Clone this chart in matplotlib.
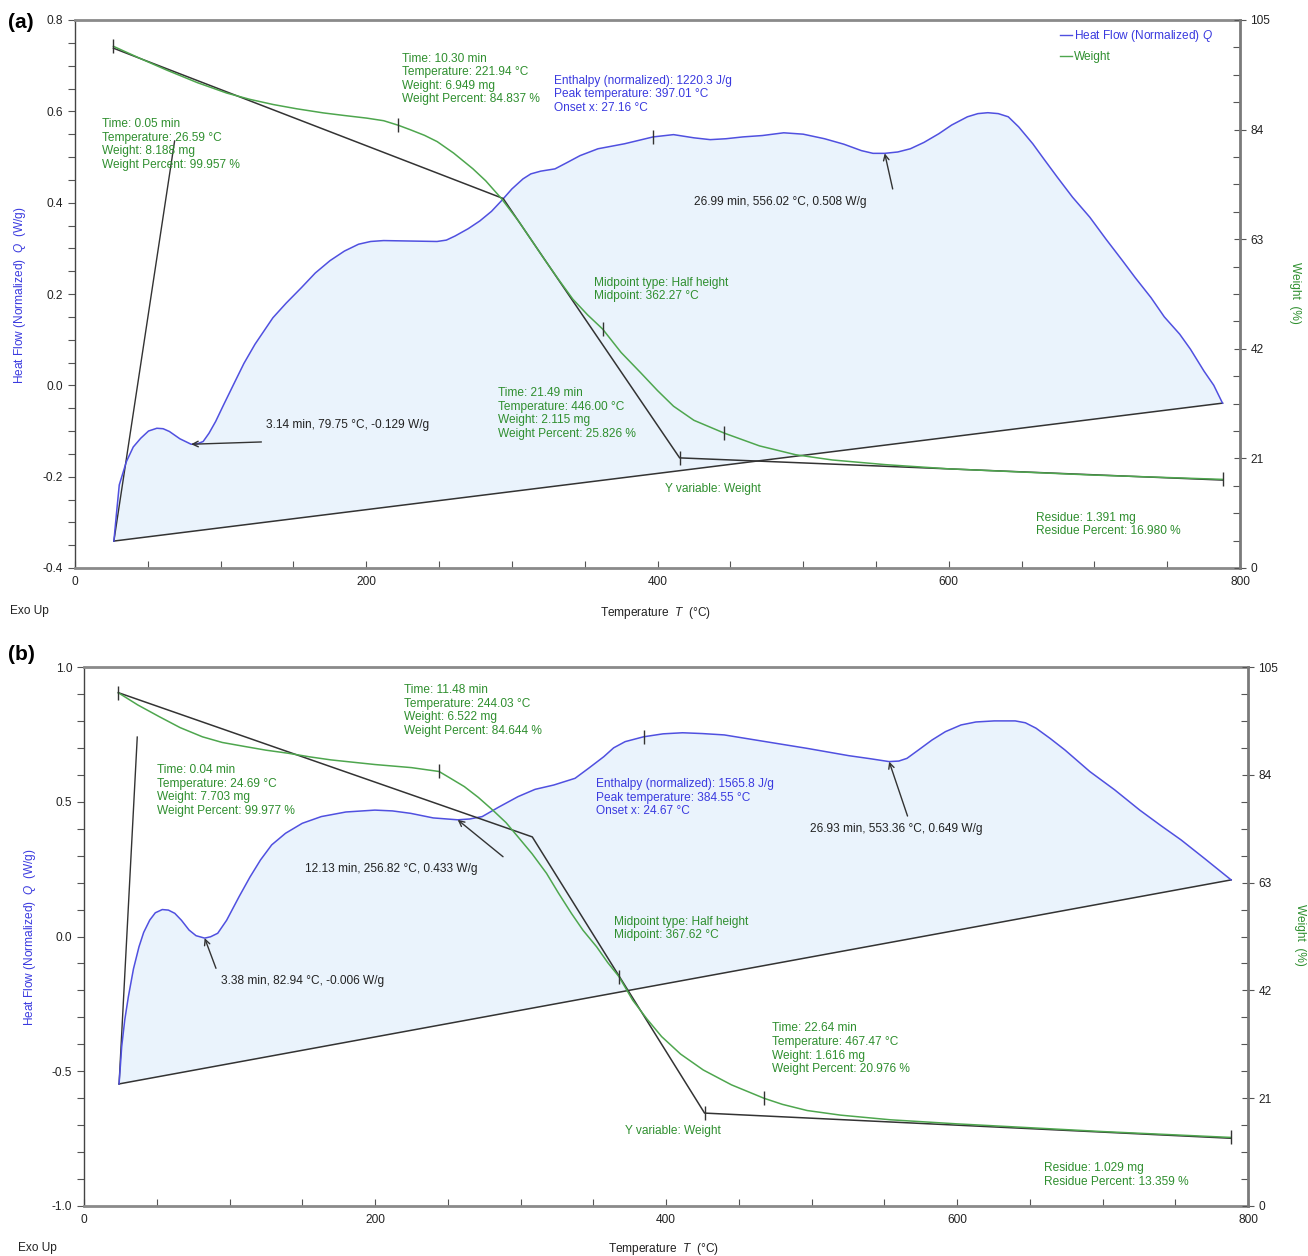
import matplotlib
matplotlib.use("Agg")
import matplotlib.pyplot as plt
from matplotlib.lines import Line2D
from matplotlib.ticker import MultipleLocator, FuncFormatter

plt.rcParams['font.family'] = ['Liberation Sans', 'DejaVu Sans']
plt.rcParams['mathtext.fontset'] = 'custom'
plt.rcParams['mathtext.rm'] = 'Liberation Sans'
plt.rcParams['mathtext.it'] = 'Liberation Sans:italic'

# ---------------- Panel (a) data ----------------
a_hf_T = [26.7, 28.5, 30.4, 35.3, 40.0, 45.1, 50.5, 56.2, 60.5, 64.8, 72.0, 79.75, 84.0, 88.0, 92.0, 96.6,
          102.0, 108.9, 116.0, 123.6, 135.9, 145.0, 155.5, 165.0, 175.1, 185.0, 194.7, 203.0, 211.9,
          230.0, 248.6, 255.0, 261.0, 270.0, 278.0, 286.0, 292.8,
          300.0, 307.6, 313.0, 319.8, 329.6, 338.0, 346.8, 359.1, 377.4, 397.0, 411.0, 425.0,
          436.2, 447.0, 458.7, 472.0, 486.7, 500.0, 514.7,
          528.0, 540.0, 548.0, 556.02, 565.0, 573.6, 583.0, 593.2, 602.0, 612.8, 620.0, 626.8, 634.0,
          640.9, 648.0, 657.7, 665.0, 674.5, 685.0, 696.9, 708.0, 719.3, 728.0, 738.9,
          748.0, 758.6, 766.0, 775.3, 782.0, 788.0]
a_hf_Q = [-0.341, -0.28, -0.218, -0.167, -0.135, -0.116, -0.100, -0.094, -0.095, -0.101, -0.117, -0.129, -0.128, -0.123, -0.105, -0.079,
          -0.043, 0.002, 0.048, 0.090, 0.148, 0.180, 0.214, 0.246, 0.273, 0.294, 0.309, 0.315, 0.317,
          0.316, 0.315, 0.318, 0.327, 0.343, 0.360, 0.381, 0.404,
          0.430, 0.452, 0.463, 0.469, 0.474, 0.488, 0.503, 0.518, 0.529, 0.544, 0.549, 0.542,
          0.538, 0.540, 0.544, 0.547, 0.553, 0.550, 0.540,
          0.528, 0.514, 0.508, 0.508, 0.511, 0.518, 0.532, 0.551, 0.570, 0.588, 0.595, 0.597, 0.595,
          0.588, 0.566, 0.529, 0.497, 0.456, 0.412, 0.368, 0.320, 0.273, 0.236, 0.192,
          0.150, 0.112, 0.079, 0.031, 0.000, -0.039]
a_wt_T = [26.4, 45.0, 63.0, 84.0, 104.2, 120.0, 136.2, 152.0, 170.5, 185.0, 200.3, 212.0, 221.94,
          230.0, 240.0, 248.7, 260.0, 273.2, 282.0, 292.8, 305.0, 322.2, 332.0, 341.9, 352.0,
          362.27, 375.0, 388.5, 400.0, 411.0, 425.0, 446.0, 470.0, 494.9, 520.0, 556.7, 600.0,
          640.9, 700.0, 788.0]
a_wt_W = [99.957, 97.6, 95.4, 93.0, 91.0, 89.8, 88.8, 88.0, 87.2, 86.7, 86.2, 85.7, 84.837,
          84.0, 82.9, 81.7, 79.5, 76.5, 74.2, 70.8, 66.3, 59.2, 55.3, 51.5, 48.5,
          45.8, 41.3, 37.4, 34.0, 31.0, 28.3, 25.826, 23.4, 21.7, 20.7, 19.8, 19.0,
          18.5, 17.8, 16.98]
a_tan_T = [26.4, 294.0, 415.2, 788.0]
a_tan_W = [99.6, 70.8, 21.1, 16.85]
a_wmark_T = [26.4, 221.94, 362.27, 446.0, 788.0]
a_wmark_W = [99.957, 84.837, 45.8, 25.826, 16.98]
a_onset_mark = (415.2, 21.1)
a_peak = (397.01, 0.544)

# ---------------- Panel (b) data ----------------
b_hf_T = [24.1, 25.0, 25.9, 28.0, 30.5, 34.0, 37.8, 41.0, 45.2, 49.0, 53.8, 58.0, 62.4, 67.0, 72.2,
          77.0, 82.94, 87.0, 91.9, 98.0, 106.6, 114.0, 121.3, 129.0, 138.5, 150.0,
          163.1, 180.0, 199.9, 212.0, 224.5, 240.0, 256.82, 265.0, 273.7, 285.0, 298.3, 310.0,
          322.8, 337.5, 347.0, 357.2, 364.0, 371.9, 384.55,
          398.0, 411.4, 425.0, 440.0, 468.5, 497.1, 525.6, 540.0, 553.36, 560.0, 565.6, 574.0, 582.8,
          592.0, 602.8, 613.0, 625.6, 640.0, 647.0, 654.3, 664.0,
          674.2, 691.3, 708.4, 725.6, 740.0, 754.1, 770.0, 788.4]
b_hf_Q = [-0.547, -0.48, -0.409, -0.31, -0.223, -0.12, -0.038, 0.015, 0.061, 0.088, 0.100, 0.098, 0.086, 0.060, 0.024,
          0.003, -0.006, -0.001, 0.012, 0.060, 0.148, 0.220, 0.284, 0.340, 0.383, 0.420,
          0.445, 0.462, 0.469, 0.466, 0.457, 0.440, 0.433, 0.436, 0.445, 0.480, 0.519, 0.546,
          0.562, 0.587, 0.625, 0.667, 0.700, 0.723, 0.741,
          0.752, 0.756, 0.753, 0.748, 0.723, 0.698, 0.671, 0.660, 0.649, 0.651, 0.661, 0.694, 0.729,
          0.760, 0.785, 0.796, 0.800, 0.800, 0.793, 0.773, 0.735,
          0.692, 0.612, 0.544, 0.469, 0.412, 0.358, 0.290, 0.210]
b_wt_T = [23.6, 37.0, 51.9, 66.0, 81.4, 95.0, 110.8, 125.0, 140.3, 155.0, 169.8, 200.0, 225.0,
          244.03, 252.0, 261.4, 271.0, 281.0, 290.0, 298.3, 308.0, 317.9, 326.0, 335.0, 343.0,
          352.3, 360.0, 367.62, 377.1, 387.0, 397.0, 410.0, 425.6, 445.0, 467.47, 480.0, 497.0,
          520.0, 554.0, 600.0, 640.0, 700.0, 788.0]
b_wt_W = [99.977, 97.6, 95.3, 93.2, 91.4, 90.3, 89.5, 88.8, 88.2, 87.5, 86.9, 86.0, 85.4,
          84.644, 83.3, 81.7, 79.6, 77.1, 74.7, 71.9, 68.6, 64.8, 61.0, 57.0, 53.7,
          50.5, 47.4, 44.7, 40.1, 36.4, 33.0, 29.6, 26.5, 23.6, 20.976, 19.8, 18.6,
          17.7, 16.8, 16.0, 15.4, 14.5, 13.359]
b_tan_T = [23.6, 308.1, 426.5, 788.0]
b_tan_W = [100.0, 71.9, 18.1, 13.2]
b_wmark_T = [23.6, 244.03, 367.62, 467.47, 788.0]
b_wmark_W = [99.977, 84.644, 44.7, 20.976, 13.359]
b_onset_mark = (426.5, 18.1)
b_peak = (384.55, 0.741)

BLUE = '#5050e0'
BLUE_TXT = '#3a3adf'
GREEN = '#4ea64e'
GREEN_TXT = '#2f8f2f'
FILL = '#eaf3fc'
DARK = '#333333'
FS = 8.6

fig = plt.figure(figsize=(13.08, 12.56), dpi=100)


def fx(px):
    return px / 1308.0


def fy(py):
    return 1 - py / 1256.0


def setup(ax, ax2, ylim, ymajor, yminor):
    ax.set_xlim(0, 800)
    ax.set_ylim(*ylim)
    ax2.set_ylim(0, 105)
    ax.xaxis.set_major_locator(MultipleLocator(200))
    ax.xaxis.set_minor_locator(MultipleLocator(50))
    ax.yaxis.set_major_locator(MultipleLocator(ymajor))
    ax.yaxis.set_minor_locator(MultipleLocator(yminor))
    ax2.yaxis.set_major_locator(MultipleLocator(21))
    ax2.yaxis.set_minor_locator(MultipleLocator(5.25))
    ax.tick_params(axis='x', which='both', direction='in', length=5, width=0.8,
                   colors='#555555', labelcolor='#222222', labelsize=FS, pad=6)
    ax.tick_params(axis='y', which='both', direction='out', length=5, width=0.8,
                   colors='#555555', labelcolor='#222222', labelsize=FS)
    ax.tick_params(axis='x', which='both', top=False)
    ax2.tick_params(axis='y', which='major', direction='inout', length=8, width=0.8,
                    colors='#555555', labelcolor='#222222', labelsize=FS)
    ax2.tick_params(axis='y', which='minor', direction='in', length=5, width=0.8,
                    colors='#555555')
    for sp in ['top', 'bottom']:
        ax.spines[sp].set_color('#8a8a8a')
        ax.spines[sp].set_linewidth(2.0)
        ax2.spines[sp].set_visible(False)
    ax2.spines['right'].set_color('#7a7a7a')
    ax2.spines['right'].set_linewidth(2.0)
    ax.spines['right'].set_visible(False)
    ax2.spines['left'].set_visible(False)
    ax.spines['left'].set_color('#444444')
    ax.spines['left'].set_linewidth(1.0)
    ax.yaxis.set_major_formatter(FuncFormatter(lambda v, p: f"{v:.1f}"))
    ax2.yaxis.set_major_formatter(FuncFormatter(lambda v, p: f"{v:.0f}"))


def draw_panel(ax, ax2, hfT, hfQ, wT, wW, tT, tW, mT, mW, onset, peak, leader_end):
    ax.fill(hfT, hfQ, color=FILL, zorder=1, lw=0)
    ax.plot([hfT[0], hfT[-1]], [hfQ[0], hfQ[-1]], color=DARK, lw=1.1, zorder=2)
    ax.plot(hfT, hfQ, color=BLUE, lw=1.1, zorder=3)
    ax.plot([hfT[0], leader_end[0]], [hfQ[0], leader_end[1]], color=DARK, lw=1.0, zorder=2)
    ax.plot([peak[0]], [peak[1]], marker='|', ms=10, color=DARK, mew=1.0, zorder=4)
    ax2.plot(wT, wW, color=GREEN, lw=1.1, zorder=3)
    ax2.plot(tT, tW, color=DARK, lw=1.1, zorder=2)
    ax2.plot(mT, mW, marker='|', ms=10, color=DARK, mew=1.0, ls='none', zorder=4)
    ax2.plot([onset[0]], [onset[1]], marker='|', ms=10, color=DARK, mew=1.0, zorder=4)


def txt(ax, x, y, s, color, ha='left', va='top'):
    ax.text(x, y, s, color=color, fontsize=FS, ha=ha, va=va, linespacing=1.17, zorder=6)


def arrow(ax, tail, tip):
    ax.annotate('', xy=tip, xytext=tail,
                arrowprops=dict(arrowstyle='->', color=DARK, lw=1.0, shrinkA=0, shrinkB=0,
                                mutation_scale=10), zorder=6)


# ---------- Panel (a) ----------
axA = fig.add_axes([fx(75), fy(568), fx(1240) - fx(75), fy(20) - fy(568)])
axA2 = axA.twinx()
setup(axA, axA2, (-0.4, 0.8), 0.2, 0.05)
draw_panel(axA, axA2, a_hf_T, a_hf_Q, a_wt_T, a_wt_W, a_tan_T, a_tan_W,
           a_wmark_T, a_wmark_W, a_onset_mark, a_peak, (68.4, 0.535))
arrow(axA, (128.0, -0.124), (79.75, -0.129))
arrow(axA, (561.5, 0.43), (556.02, 0.508))
txt(axA, 18.3, 0.585, "Time: 0.05 min\nTemperature: 26.59 °C\nWeight: 8.188 mg\nWeight Percent: 99.957 %", GREEN_TXT)
txt(axA, 224.4, 0.728, "Time: 10.30 min\nTemperature: 221.94 °C\nWeight: 6.949 mg\nWeight Percent: 84.837 %", GREEN_TXT)
txt(axA, 329.0, 0.680, "Enthalpy (normalized): 1220.3 J/g\nPeak temperature: 397.01 °C\nOnset x: 27.16 °C", BLUE_TXT)
txt(axA, 425.0, 0.402, "26.99 min, 556.02 °C, 0.508 W/g", '#222222', va='center')
txt(axA, 131.0, -0.086, "3.14 min, 79.75 °C, -0.129 W/g", '#222222', va='center')
txt(axA, 356.4, 0.238, "Midpoint type: Half height\nMidpoint: 362.27 °C", GREEN_TXT)
txt(axA, 290.8, -0.004, "Time: 21.49 min\nTemperature: 446.00 °C\nWeight: 2.115 mg\nWeight Percent: 25.826 %", GREEN_TXT)
txt(axA, 405.4, -0.226, "Y variable: Weight", GREEN_TXT, va='center')
txt(axA, 660.0, -0.277, "Residue: 1.391 mg\nResidue Percent: 16.980 %", GREEN_TXT)
leg = axA2.legend(handles=[Line2D([], [], color=BLUE, lw=1.0),
                           Line2D([], [], color=GREEN, lw=1.0)],
                  labels=["Heat Flow (Normalized) $\\it{Q}$", "Weight"],
                  loc='upper left', bbox_to_anchor=((1060 - 75) / 1165.0, 1 - 8 / 548.0),
                  frameon=False, fontsize=FS, handlelength=1.0, handletextpad=0.15,
                  labelspacing=0.6, borderaxespad=0, borderpad=0)
leg.get_texts()[0].set_color(BLUE_TXT)
leg.get_texts()[1].set_color(GREEN_TXT)

# ---------- Panel (b) ----------
axB = fig.add_axes([fx(84), fy(1206), fx(1248) - fx(84), fy(667) - fy(1206)])
axB2 = axB.twinx()
setup(axB, axB2, (-1.0, 1.0), 0.5, 0.1)
draw_panel(axB, axB2, b_hf_T, b_hf_Q, b_wt_T, b_wt_W, b_tan_T, b_tan_W,
           b_wmark_T, b_wmark_W, b_onset_mark, b_peak, (36.6, 0.74))
arrow(axB, (90.7, -0.118), (82.94, -0.006))
arrow(axB, (288.0, 0.296), (256.82, 0.433))
arrow(axB, (566.0, 0.447), (553.36, 0.649))
txt(axB, 50.1, 0.640, "Time: 0.04 min\nTemperature: 24.69 °C\nWeight: 7.703 mg\nWeight Percent: 99.977 %", GREEN_TXT)
txt(axB, 220.1, 0.937, "Time: 11.48 min\nTemperature: 244.03 °C\nWeight: 6.522 mg\nWeight Percent: 84.644 %", GREEN_TXT)
txt(axB, 152.0, 0.250, "12.13 min, 256.82 °C, 0.433 W/g", '#222222', va='center')
txt(axB, 94.3, -0.166, "3.38 min, 82.94 °C, -0.006 W/g", '#222222', va='center')
txt(axB, 352.2, 0.587, "Enthalpy (normalized): 1565.8 J/g\nPeak temperature: 384.55 °C\nOnset x: 24.67 °C", BLUE_TXT)
txt(axB, 499.3, 0.400, "26.93 min, 553.36 °C, 0.649 W/g", '#222222', va='center')
txt(axB, 364.2, 0.077, "Midpoint type: Half height\nMidpoint: 367.62 °C", GREEN_TXT)
txt(axB, 472.7, -0.319, "Time: 22.64 min\nTemperature: 467.47 °C\nWeight: 1.616 mg\nWeight Percent: 20.976 %", GREEN_TXT)
txt(axB, 371.9, -0.722, "Y variable: Weight", GREEN_TXT, va='center')
txt(axB, 660.0, -0.838, "Residue: 1.029 mg\nResidue Percent: 13.359 %", GREEN_TXT)

# ---------- outer labels ----------
for (lx, ly, rx, ry, xx, xy, ex, ey, px_, py_, lab) in [
        (20, 295, 1295, 293, 655, 613, 10, 611, 8, 22, "(a)"),
        (30, 937, 1300, 935, 663, 1249, 18, 1248, 8, 655, "(b)")]:
    fig.text(fx(lx), fy(ly), "Heat Flow (Normalized)  $\\it{Q}$  (W/g)", color=BLUE_TXT,
             fontsize=FS, rotation=90, ha='center', va='center')
    fig.text(fx(rx), fy(ry), "Weight  (%)", color=GREEN_TXT, fontsize=FS, rotation=270,
             ha='center', va='center')
    fig.text(fx(xx), fy(xy), "Temperature  $\\it{T}$  (°C)", color='#222222', fontsize=FS,
             ha='center', va='center')
    fig.text(fx(ex), fy(ey), "Exo Up", color='#222222', fontsize=FS, ha='left', va='center')
    fig.text(fx(px_), fy(py_), lab, color='black', fontsize=15, fontweight='bold',
             ha='left', va='center')

fig.savefig("out.png", dpi=100)
